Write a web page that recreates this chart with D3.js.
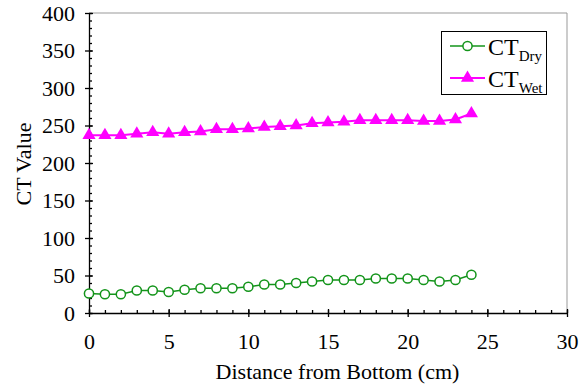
<!DOCTYPE html>
<html>
<head>
<meta charset="utf-8">
<script src="https://cdn.jsdelivr.net/npm/d3@7"></script>
<style>
  body { margin: 0; background: #fff; }
  text { font-family: "Liberation Serif", "Times New Roman", serif; fill: #000; }
</style>
</head>
<body>
<svg id="chart" width="583" height="385"></svg>
<script>
// distance from bottom (cm)
const distance = [0, 1, 2, 3, 4, 5, 6, 7, 8, 9, 10, 11, 12, 13, 14, 15, 16, 17, 18, 19, 20, 21, 22, 23, 24];
const ctDry = [26, 25, 25, 30, 30, 28, 31, 33, 33, 33, 35, 38, 38, 40, 42, 44, 44, 44, 46, 46, 46, 44, 42, 44, 51];
const ctWet = [237, 237, 237, 239, 241, 239, 241, 242, 245, 245, 246, 248, 249, 250, 253, 254, 255, 257, 257, 257, 257, 256, 256, 258, 266];
const xTicks = [0, 5, 10, 15, 20, 25, 30];
const yTicks = [0, 50, 100, 150, 200, 250, 300, 350, 400];

const svg = d3.select('#chart');
const mLeft = 89, mRight = 567, mTop = 13, mBottom = 313;

const x = d3.scaleLinear().domain([0, 30]).range([mLeft, mRight]);
const y = d3.scaleLinear().domain([0, 400]).range([mBottom, mTop]);

// grey frame on top and right
svg.append('path')
  .attr('d', `M${mLeft},${mTop}H${mRight}V${mBottom}`)
  .attr('fill', 'none')
  .attr('stroke', '#999')
  .attr('stroke-width', 1);

// minor ticks (inside)
const xAxisMinor = d3.axisTop(x).tickValues(d3.range(0, 31)).tickSize(3).tickFormat('');
svg.append('g').attr('transform', `translate(0,${mBottom})`).call(xAxisMinor)
  .call(g => g.select('.domain').remove());
const yAxisMinor = d3.axisRight(y).tickValues(d3.range(0, 401, 10)).tickSize(3).tickFormat('');
svg.append('g').attr('transform', `translate(${mLeft},0)`).call(yAxisMinor)
  .call(g => g.select('.domain').remove());

// major axes, ticks crossing the line
const xAxis = d3.axisBottom(x).tickValues(xTicks).tickSize(4).tickPadding(16).tickSizeOuter(0);
const gx = svg.append('g').attr('transform', `translate(0,${mBottom})`).call(xAxis);
gx.selectAll('.tick line').attr('y1', -4);
gx.selectAll('text').style('font-size', '22px').style('font-family', '"Liberation Serif", serif');

const yAxis = d3.axisLeft(y).tickValues(yTicks).tickSize(4).tickPadding(10).tickSizeOuter(0);
const gy = svg.append('g').attr('transform', `translate(${mLeft},0)`).call(yAxis);
gy.selectAll('.tick line').attr('x1', 4);
gy.selectAll('text').style('font-size', '22px').style('font-family', '"Liberation Serif", serif');

svg.selectAll('.domain, .tick line').attr('stroke', '#000').attr('stroke-width', 1.3);

// axis titles
svg.append('text')
  .attr('x', 337.5).attr('y', 379)
  .attr('text-anchor', 'middle')
  .style('font-size', '22px')
  .text('Distance from Bottom (cm)');
svg.append('text')
  .attr('transform', `translate(31,164) rotate(-90)`)
  .attr('text-anchor', 'middle')
  .style('font-size', '22px')
  .text('CT Value');

const green = '#13941a', magenta = '#ff00ff';
const line = d3.line().x((d, i) => x(distance[i])).y(d => y(d));

// wet series
svg.append('path').datum(ctWet)
  .attr('d', line).attr('fill', 'none')
  .attr('stroke', magenta).attr('stroke-width', 2);
const tri = d3.symbol().type(d3.symbolTriangle).size(75);
svg.append('g').selectAll('path').data(ctWet).join('path')
  .attr('d', tri)
  .attr('transform', (d, i) => `translate(${x(distance[i])},${y(d)})`)
  .attr('fill', magenta);

// dry series
svg.append('path').datum(ctDry)
  .attr('d', line).attr('fill', 'none')
  .attr('stroke', green).attr('stroke-width', 1.5);
svg.append('g').selectAll('circle').data(ctDry).join('circle')
  .attr('cx', (d, i) => x(distance[i]))
  .attr('cy', d => y(d))
  .attr('r', 4.6)
  .attr('fill', '#fff')
  .attr('stroke', green).attr('stroke-width', 1.5);

// legend
const lg = svg.append('g');
lg.append('rect')
  .attr('x', 441.5).attr('y', 31.5).attr('width', 105).attr('height', 63)
  .attr('fill', '#fff').attr('stroke', '#000').attr('stroke-width', 1);
const entries = [
  { sub: 'Dry', color: green, type: 'circle', cy: 46 },
  { sub: 'Wet', color: magenta, type: 'tri', cy: 78 }
];
entries.forEach(e => {
  lg.append('line').attr('x1', 450).attr('x2', 485).attr('y1', e.cy).attr('y2', e.cy)
    .attr('stroke', e.color).attr('stroke-width', e.type === 'tri' ? 2 : 1.5);
  if (e.type === 'circle') {
    lg.append('circle').attr('cx', 467.5).attr('cy', e.cy).attr('r', 4.6)
      .attr('fill', '#fff').attr('stroke', e.color).attr('stroke-width', 1.5);
  } else {
    lg.append('path').attr('d', tri).attr('transform', `translate(467.5,${e.cy})`).attr('fill', e.color);
  }
  const t = lg.append('text').attr('x', 488).attr('y', e.cy + 8.5).style('font-size', '24px');
  t.append('tspan').text('CT');
  t.append('tspan').attr('dy', 6).style('font-size', '15px').text(e.sub);
});
</script>
</body>
</html>
